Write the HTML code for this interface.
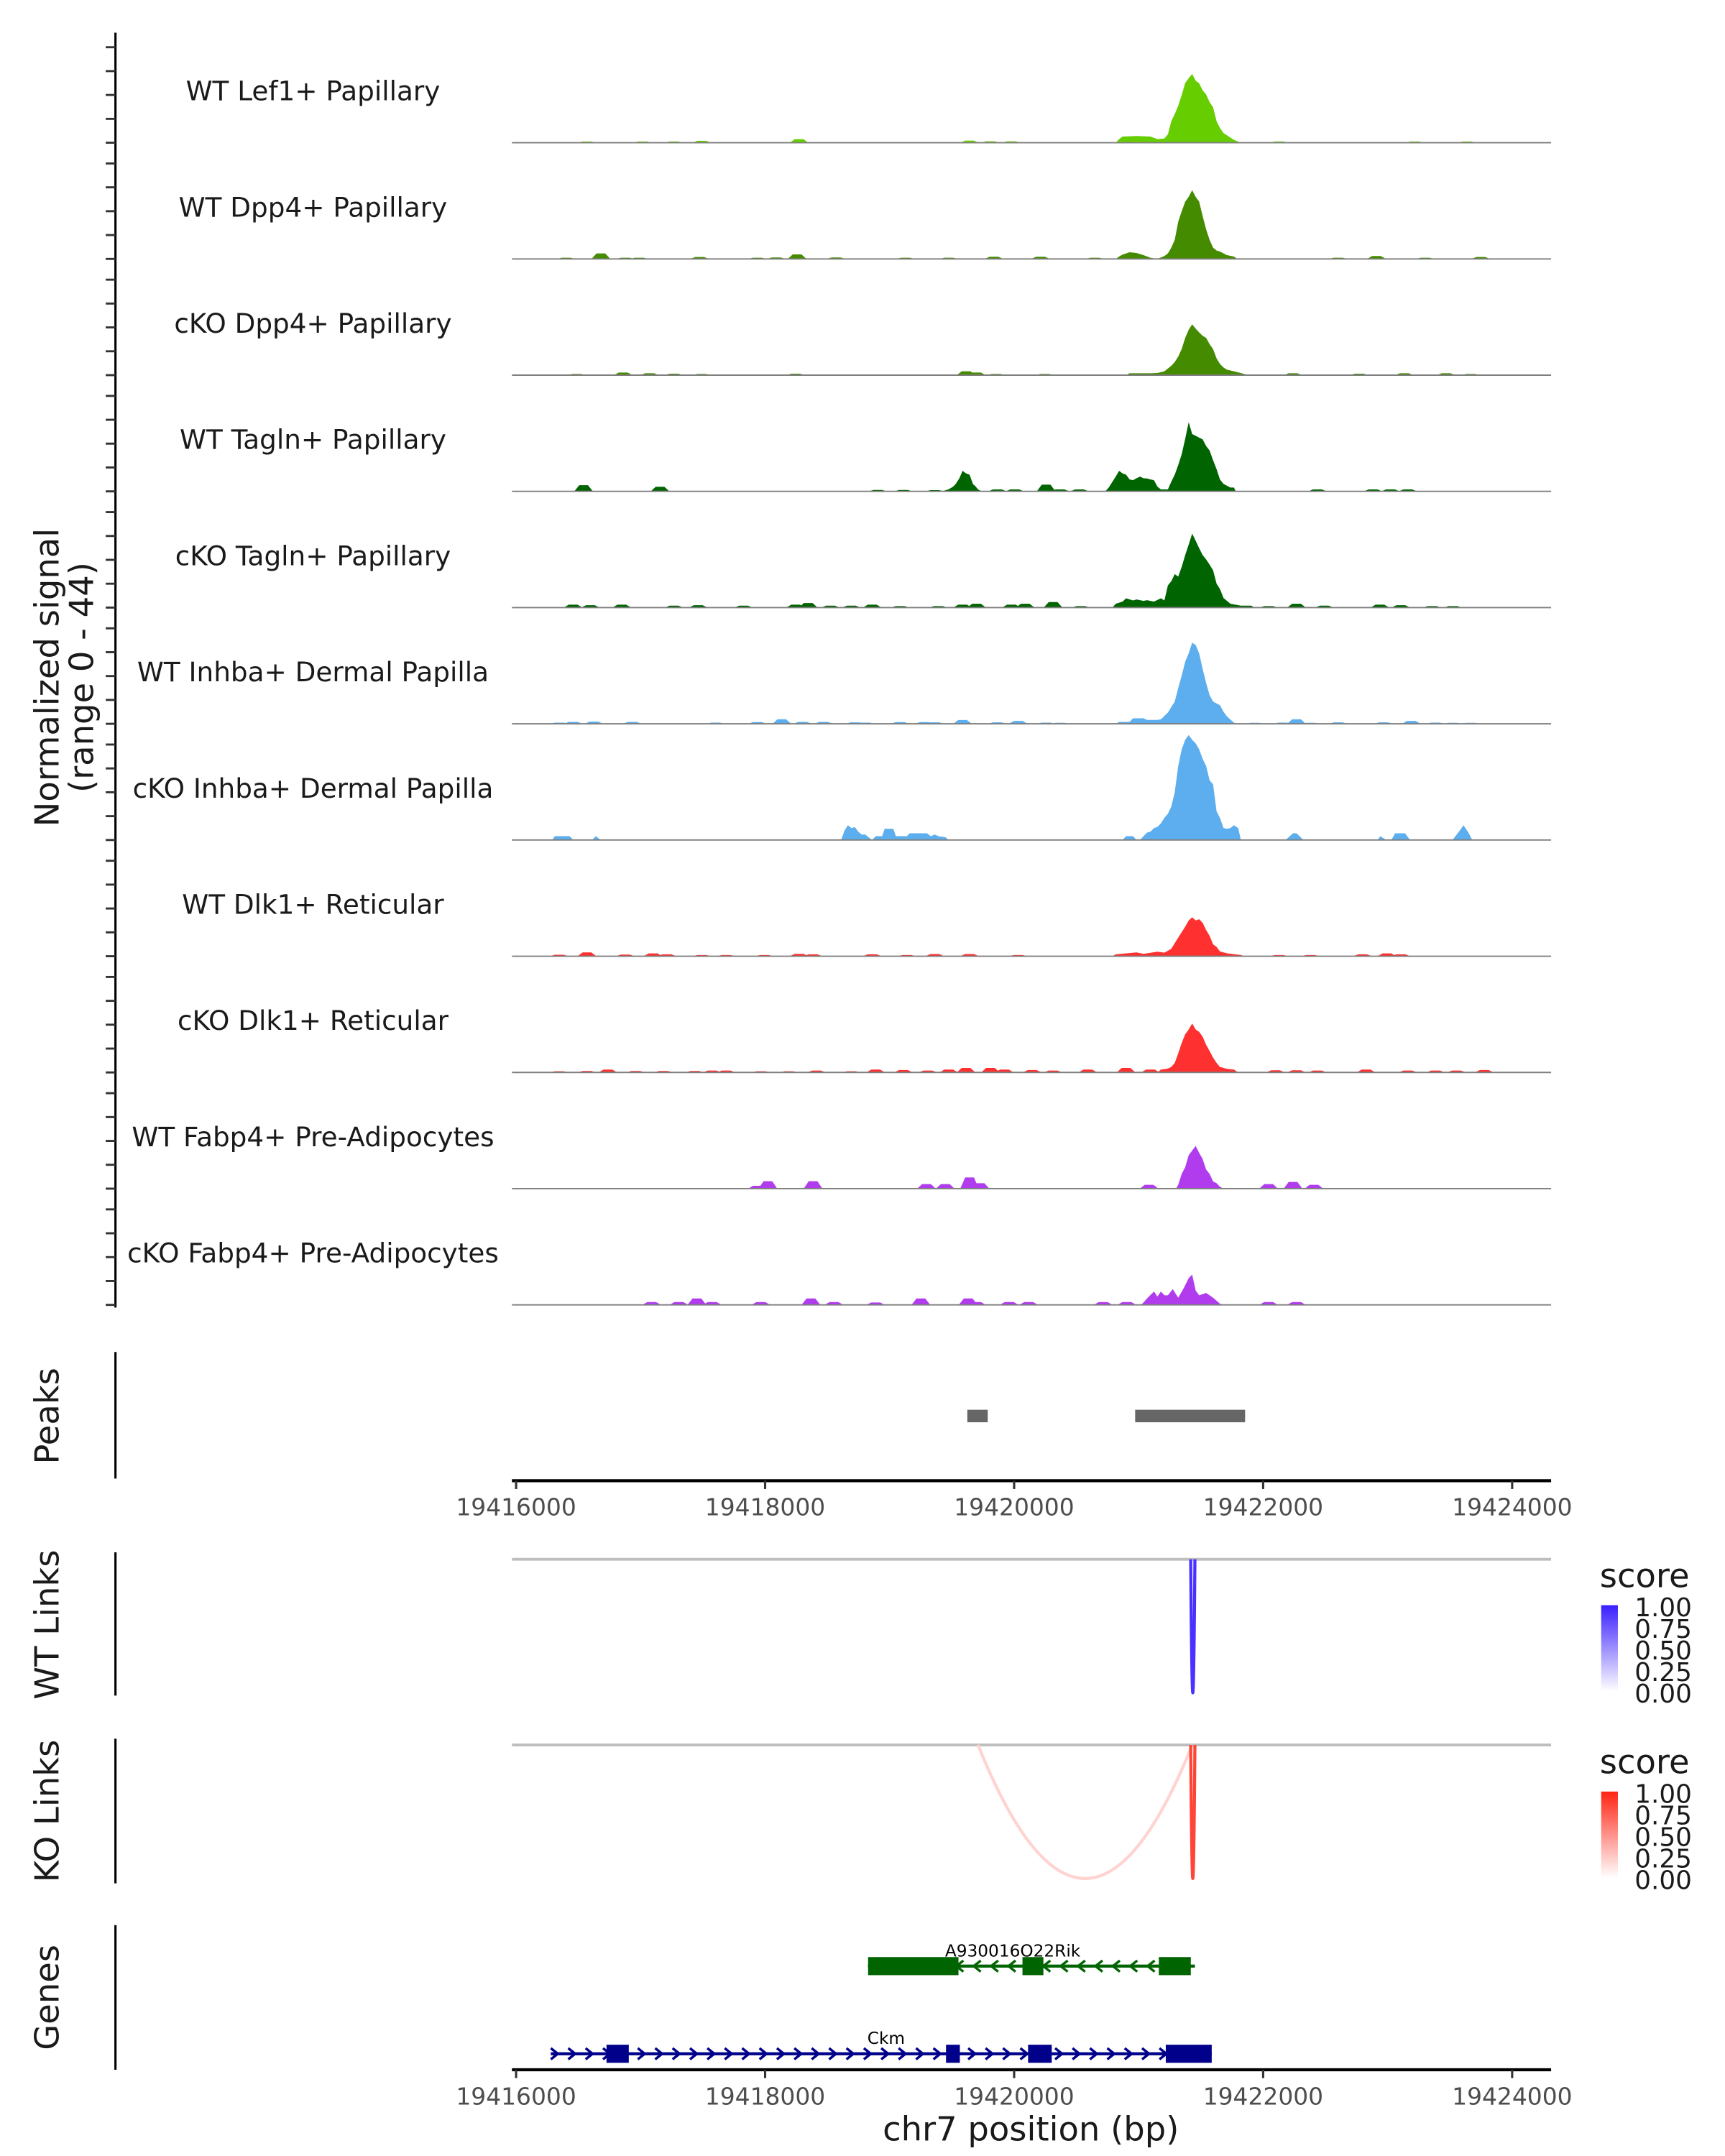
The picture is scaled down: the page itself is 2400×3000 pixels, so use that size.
<!DOCTYPE html>
<html>
<head>
<meta charset="utf-8">
<style>
  html,body{margin:0;padding:0;background:#fff;}
  svg{display:block;}
  text{font-family:"DejaVu Sans","Liberation Sans",sans-serif;}
</style>
</head>
<body>
<svg id="fig" xmlns="http://www.w3.org/2000/svg" width="2400" height="3000" viewBox="0 0 1240 1550">
  <defs>
    <linearGradient id="gradBlue" x1="0" y1="0" x2="0" y2="1">
      <stop offset="0" stop-color="#3a1fff"/>
      <stop offset="1" stop-color="#ffffff"/>
    </linearGradient>
    <linearGradient id="gradRed" x1="0" y1="0" x2="0" y2="1">
      <stop offset="0" stop-color="#ff2414"/>
      <stop offset="1" stop-color="#ffffff"/>
    </linearGradient>
  </defs>
  <g id="tracks"></g>
  <text transform="translate(42,487) rotate(-90)" text-anchor="middle" font-size="24" fill="#1a1a1a">Normalized signal</text>
  <text transform="translate(67,487) rotate(-90)" text-anchor="middle" font-size="24" fill="#1a1a1a">(range 0 - 44)</text>

  <g id="peaks"></g>
  <g id="links"></g>
  <g id="genes"></g>
  <g id="axes"></g>

  <g>
    <text x="1150" y="1141" font-size="24" fill="#1a1a1a">score</text>
    <rect x="1151" y="1154" width="12" height="62" fill="url(#gradBlue)"/>
    <text x="1175" y="1162" font-size="18.5" fill="#1a1a1a">1.00</text>
    <text x="1175" y="1177.5" font-size="18.5" fill="#1a1a1a">0.75</text>
    <text x="1175" y="1193" font-size="18.5" fill="#1a1a1a">0.50</text>
    <text x="1175" y="1208.5" font-size="18.5" fill="#1a1a1a">0.25</text>
    <text x="1175" y="1224" font-size="18.5" fill="#1a1a1a">0.00</text>
  </g>
  <g>
    <text x="1150" y="1275" font-size="24" fill="#1a1a1a">score</text>
    <rect x="1151" y="1288" width="12" height="62" fill="url(#gradRed)"/>
    <text x="1175" y="1296" font-size="18.5" fill="#1a1a1a">1.00</text>
    <text x="1175" y="1311.5" font-size="18.5" fill="#1a1a1a">0.75</text>
    <text x="1175" y="1327" font-size="18.5" fill="#1a1a1a">0.50</text>
    <text x="1175" y="1342.5" font-size="18.5" fill="#1a1a1a">0.25</text>
    <text x="1175" y="1358" font-size="18.5" fill="#1a1a1a">0.00</text>
  </g>

  <text transform="translate(42,1018) rotate(-90)" text-anchor="middle" font-size="24" fill="#1a1a1a">Peaks</text>
  <text transform="translate(42,1168) rotate(-90)" text-anchor="middle" font-size="24" fill="#1a1a1a">WT Links</text>
  <text transform="translate(42,1302) rotate(-90)" text-anchor="middle" font-size="24" fill="#1a1a1a">KO Links</text>
  <text transform="translate(42,1436) rotate(-90)" text-anchor="middle" font-size="24" fill="#1a1a1a">Genes</text>
  <text x="741" y="1539" text-anchor="middle" font-size="24" fill="#1a1a1a">chr7 position (bp)</text>
</svg>

<script>
// ---------------- data ----------------
const trackNames = ["WT Lef1+ Papillary","WT Dpp4+ Papillary","cKO Dpp4+ Papillary","WT Tagln+ Papillary","cKO Tagln+ Papillary","WT Inhba+ Dermal Papilla","cKO Inhba+ Dermal Papilla","WT Dlk1+ Reticular","cKO Dlk1+ Reticular","WT Fabp4+ Pre-Adipocytes","cKO Fabp4+ Pre-Adipocytes"];
const signalRange = [0, 44];
const xTicks = [19416000, 19418000, 19420000, 19422000, 19424000];
const yTickValues = [0, 10, 20, 30, 40];

const lef1WtBumps = [[16569,0.5],[17016,0.5],[17268,0.5],[17491,0.8],[18273,1.5],[19642,0.9],[19810,0.6],[19978,0.6],[22128,0.5],[23218,0.5],[23637,0.5]];
const lef1WtMain = [[20816,0],[20843,1.5],[20871,2.6],[20983,2.8],[21095,2.6],[21151,1.5],[21207,1.8],[21235,3.5],[21262,9],[21290,12],[21318,15.5],[21346,20],[21374,25],[21402,27],[21430,28.8],[21458,26],[21486,24.9],[21514,22],[21542,20.2],[21570,17],[21598,14.8],[21626,9],[21653,6.2],[21682,4],[21709,3.1],[21765,1.2],[21821,0]];

const dpp4WtBumps = [[16402,0.5],[16681,2.3],[16877,0.5],[16988,0.5],[17474,0.8],[17938,0.5],[18089,0.6],[18257,1.9],[18570,0.6],[19128,0.5],[19475,0.5],[19838,0.9],[20212,0.9],[20648,0.5],[22603,0.5],[22910,1.2],[23301,0.5],[23748,0.8]];
const dpp4WtMain = [[20816,0],[20843,1],[20871,1.8],[20927,2.8],[20983,2.5],[21039,1.6],[21095,0.5],[21151,0],[21207,1.2],[21235,2.3],[21262,4.7],[21290,8],[21318,15.6],[21346,20],[21374,24],[21402,26],[21430,28.8],[21458,26],[21486,24],[21514,18],[21542,12.4],[21570,8],[21598,4.7],[21626,3.5],[21653,3.1],[21709,1.6],[21765,1],[21793,0]];

const dpp4KoBumps = [[16486,0.5],[16860,1.1],[17072,0.8],[17268,0.6],[17491,0.5],[18245,0.6],[19614,1.6],[19698,1.1],[19855,0.5],[20033,0.3],[20246,0.5],[22240,0.8],[22771,0.6],[23134,0.8],[23469,0.8],[23665,0.5],[23861,0.3]];
const dpp4KoMain = [[20899,0],[20927,0.8],[21095,0.8],[21151,0.9],[21207,1.6],[21262,3.9],[21290,5.5],[21318,7.8],[21346,11],[21374,15.6],[21402,19],[21430,21.3],[21458,19.5],[21486,17.9],[21514,16.5],[21542,15.6],[21570,13],[21598,10.9],[21626,7],[21653,4.7],[21682,3.2],[21709,2.3],[21765,1.6],[21849,0.5],[21877,0]];

const taglnWtBumps = [[16542,2.6],[17156,1.9],[18905,0.6],[19111,0.6],[19363,0.5],[19866,0.8],[20005,0.8],[20257,2.8],[20369,0.8],[20525,0.8],[22436,0.8],[22883,0.8],[23023,0.8],[23162,0.8]];
const taglnWtMain = [[19420,0],[19475,0.9],[19510,2],[19531,3.1],[19560,5.5],[19586,8.6],[19614,7.5],[19642,7],[19670,3],[19687,2.3],[19710,0.8],[19740,0],[20732,0],[20760,1.6],[20816,6.2],[20843,8.6],[20871,7.5],[20899,7],[20927,5],[20955,4.7],[20983,5.5],[21011,6.2],[21039,5.5],[21067,5.4],[21095,5],[21123,4.7],[21151,2],[21179,0.8],[21235,0.8],[21262,4],[21290,7],[21318,11],[21346,15.6],[21374,22],[21402,29],[21430,24],[21458,23.3],[21486,22.5],[21514,21.8],[21542,19],[21570,17.1],[21598,13],[21626,9.3],[21653,5],[21682,3.1],[21737,1.6],[21765,1.6],[21780,0]];

const taglnKoBumps = [[16458,1.2],[16597,1],[16849,1.2],[17268,0.8],[17463,1],[17827,0.8],[18245,1.2],[18346,1.9],[18525,0.8],[18693,0.8],[18860,1.2],[19084,0.6],[19391,0.6],[19586,1.2],[19698,1.6],[19978,1.2],[20089,1.6],[20313,2.3],[20536,0.6],[22044,0.6],[22268,1.6],[22491,0.8],[22938,1.2],[23106,1],[23357,0.6],[23525,0.6]];
const taglnKoMain = [[20790,0],[20816,1.6],[20871,2.5],[20899,3.9],[20955,3],[20983,3.4],[21039,2.8],[21067,3.1],[21123,2.5],[21179,3.9],[21207,3],[21235,9.3],[21262,11],[21290,14],[21318,13],[21346,17.1],[21374,22],[21402,26.4],[21430,31],[21458,28],[21486,24.9],[21514,22],[21542,20.2],[21570,18],[21598,15.6],[21626,10],[21653,7.8],[21682,4],[21737,1.6],[21821,0.8],[21905,0.8],[21930,0]];

const inhbaWtBumps = [[16346,0.5],[16458,0.8],[16625,0.9],[16933,0.8],[17603,0.5],[17938,0.7],[18134,1.9],[18301,0.8],[18469,0.8],[18721,0.6],[18804,0.5],[19084,0.7],[19279,0.7],[19363,0.6],[19586,1.6],[19866,0.6],[20033,1.2],[20257,0.5],[20369,0.4],[21933,0.4],[22156,0.5],[22268,1.9],[22380,0.4],[22603,0.6],[22966,0.6],[23190,1.2],[23385,0.5],[23525,0.4],[23665,0.4]];
const inhbaWtMain = [[20816,0],[20843,0.8],[20927,0.8],[20955,2.3],[21039,2.3],[21067,1.6],[21151,1.6],[21179,1.9],[21235,4.7],[21262,7],[21290,9.3],[21318,15],[21346,20.2],[21374,26],[21402,29.5],[21430,34],[21458,33],[21486,29.5],[21514,23],[21542,17.1],[21570,12],[21598,9.3],[21626,8.5],[21653,7.8],[21682,5],[21709,3.1],[21765,0.5],[21793,0]];

const inhbaKoBumps = [];
const inhbaKoMain = [[16290,0],[16310,1.6],[16430,1.6],[16460,0],[16610,0],[16640,1.6],[16680,0],[18610,0],[18637,3.9],[18665,6.2],[18693,5],[18721,5.4],[18748,3.5],[18776,2.3],[18804,2.3],[18860,0],[18888,1.6],[18940,1.6],[18960,4.7],[19030,4.7],[19050,1.6],[19140,1.6],[19160,2.8],[19300,2.8],[19330,1.6],[19363,2.3],[19391,1.6],[19447,1.2],[19475,0],[20871,0],[20899,1.6],[20955,1.6],[20983,0],[21011,0],[21039,1.6],[21067,3.1],[21095,3.5],[21123,5],[21151,5.5],[21179,7],[21207,9.3],[21235,11],[21262,14],[21290,20],[21318,31],[21346,38],[21374,42],[21402,44],[21430,42],[21458,40.5],[21486,38],[21514,34],[21542,31],[21570,25],[21598,23.3],[21626,12],[21653,9.3],[21682,5],[21709,4.7],[21737,5],[21765,6.2],[21800,5],[21821,0],[22180,0],[22240,2.8],[22268,2.8],[22324,0],[22920,0],[22940,1.6],[22990,0],[23030,0],[23060,2.8],[23140,2.8],[23180,0],[23520,0],[23580,4],[23609,6.2],[23650,3],[23680,0]];

const dlk1WtBumps = [[16346,0.6],[16569,1.6],[16877,0.7],[17100,1.2],[17212,0.8],[17491,0.5],[17687,0.5],[17994,0.5],[18273,1],[18385,0.8],[18860,0.8],[19139,0.5],[19363,0.9],[19642,0.9],[20033,0.5],[22128,0.5],[22380,0.5],[22799,0.8],[22994,1.2],[23106,0.8]];
const dlk1WtMain = [[20790,0],[20816,0.8],[20983,1.6],[21039,1],[21151,1.9],[21207,1.5],[21262,3.1],[21318,7.8],[21374,12.4],[21402,15],[21430,16.3],[21458,15],[21486,15.5],[21514,14],[21542,11],[21570,8.5],[21598,5],[21626,3.9],[21653,2],[21709,1.2],[21821,0.5],[21849,0]];

const dlk1KoBumps = [[16346,0.5],[16569,0.6],[16737,1.2],[16961,0.6],[17184,0.6],[17435,0.6],[17575,0.8],[17687,0.8],[17966,0.5],[18190,0.5],[18413,0.8],[18693,0.5],[18888,1.2],[19111,1],[19307,0.8],[19475,1.2],[19614,1.9],[19810,1.9],[19922,1.2],[20145,1],[20313,0.8],[20592,1.2],[20899,1.9],[21095,1.2],[22100,0.9],[22268,0.9],[22436,0.8],[22827,1.2],[23162,0.8],[23385,0.8],[23553,0.8],[23776,1]];
const dlk1KoMain = [[21150,0],[21179,1.2],[21235,1.6],[21262,2.3],[21290,4],[21318,8],[21346,12.4],[21374,16],[21402,18],[21430,20.5],[21458,18],[21486,17],[21514,15],[21542,11.6],[21570,9],[21598,6.2],[21626,4],[21653,2.3],[21709,1.5],[21765,1.2],[21800,0]];

const fabp4WtBumps = [[17938,1.2],[18022,3.1],[18385,3.1],[19296,1.9],[19447,1.9],[19642,4.7],[19726,2.3],[21084,1.6],[22044,1.9],[22240,2.8],[22408,1.6]];
const fabp4WtMain = [[21300,0],[21318,1.6],[21346,6.2],[21374,9],[21402,14],[21430,16],[21458,17.9],[21486,15],[21514,12.4],[21542,8],[21570,6.2],[21598,3],[21626,2.3],[21653,0.8],[21682,0]];

const fabp4KoBumps = [[17089,1.2],[17307,1.2],[17452,2.7],[17575,1.2],[17966,1.2],[18368,2.7],[18553,1.2],[18888,1],[19251,2.7],[19631,2.7],[19698,1.2],[19961,1.2],[20117,1.2],[20715,1.2],[20905,1.2],[22044,1.2],[22268,1.2]];
const fabp4KoMain = [[21020,0],[21039,1],[21067,2.7],[21123,5.6],[21151,3.5],[21179,5.6],[21207,4],[21235,4],[21274,6.6],[21318,3],[21363,7.1],[21402,11.2],[21430,12.7],[21458,6],[21486,4],[21542,5],[21570,4],[21598,3],[21653,0.5],[21682,0]];

const peakStarts = [19419624, 19420972];
const peakEnds = [19419788, 19421855];

const wtLinkStarts = [19421418];
const wtLinkEnds = [19421452];
const wtLinkScores = [0.92];
const koLinkStarts = [19419710, 19421418];
const koLinkEnds = [19421430, 19421452];
const koLinkScores = [0.2, 0.85];

const geneNames = ["A930016O22Rik", "Ckm"];
const geneStarts = [19418827, 19416279];
const geneEnds = [19421452, 19421587];
const geneStrands = ["-", "+"];
const rikExonStarts = [19418827, 19420067, 19421162];
const rikExonEnds = [19419553, 19420235, 19421419];
const ckmExonStarts = [19416726, 19419453, 19420112, 19421218];
const ckmExonEnds = [19416905, 19419564, 19420302, 19421587];

// ---------------- layout/styles ----------------
const signalBumps = [lef1WtBumps,dpp4WtBumps,dpp4KoBumps,taglnWtBumps,taglnKoBumps,inhbaWtBumps,inhbaKoBumps,dlk1WtBumps,dlk1KoBumps,fabp4WtBumps,fabp4KoBumps];
const signalMain = [lef1WtMain,dpp4WtMain,dpp4KoMain,taglnWtMain,taglnKoMain,inhbaWtMain,inhbaKoMain,dlk1WtMain,dlk1KoMain,fabp4WtMain,fabp4KoMain];
const trackColors = ["#66cd00","#458b00","#458b00","#006400","#006400","#5caeee","#5caeee","#ff3030","#ff3030","#b03cee","#b03cee"];
const NS = "http://www.w3.org/2000/svg";
const X0 = 368, X1 = 1115;
function xScale(bp){ return 371 + (bp - 19416000) * (179/2000); }
const trackTop = 102.6, trackStep = 83.55, unitPx = 1.716;
function yScale(i, v){ return trackTop + i*trackStep - v*unitPx; }
function mk(tag, attrs, parent){
  const e = document.createElementNS(NS, tag);
  for (const k in attrs) e.setAttribute(k, attrs[k]);
  parent.appendChild(e); return e;
}

const tracksG = document.getElementById('tracks');
let ax = mk('line', {x1:83, x2:83, y1:23.5, y2:940, stroke:'#000', 'stroke-width':1.6}, tracksG);



trackNames.forEach((name, i) => {
  const g = mk('g', {}, tracksG);
  
  
  const base = yScale(i, 0);
  yTickValues.forEach(tv => {
    const t = mk('line', {x1:76, x2:83, y1:yScale(i,tv), y2:yScale(i,tv), stroke:'#333', 'stroke-width':1.5}, g);
    
    
  });
  const col = trackColors[i];
  const pts = signalMain[i];
  if (pts.length){
    let d = '';
    pts.forEach((p, j) => {
      const x = xScale(19400000 + p[0]).toFixed(2), y = yScale(i, p[1]).toFixed(2);
      d += (j===0 ? 'M'+x+' '+base+' L' : ' L') + x + ' ' + y;
    });
    d += ' L' + xScale(19400000 + pts[pts.length-1][0]).toFixed(2) + ' ' + base + ' Z';
    const a = mk('path', {d:d, fill:col}, g);
    
    
  }
  signalBumps[i].forEach(b => {
    const c = 19400000 + b[0];
    const y = yScale(i, b[1]);
    const d = 'M'+xScale(c-75)+' '+base+' L'+xScale(c-35)+' '+y+' L'+xScale(c+35)+' '+y+' L'+xScale(c+75)+' '+base+' Z';
    const p = mk('path', {d:d, fill:col}, g);
    
    
  });
  const bl = mk('line', {x1:X0, x2:X1, y1:base, y2:base, stroke:'#7f7f7f', 'stroke-width':1}, g);
  
  
  const lab = mk('text', {x:225, y:base - 30.5, 'text-anchor':'middle', 'font-size':19.3, fill:'#1a1a1a'}, g);
  lab.textContent = name;
  
  
});

const peaksG = document.getElementById('peaks');
let pa = mk('line', {x1:83, x2:83, y1:972, y2:1063, stroke:'#000', 'stroke-width':1.6}, peaksG);


peakStarts.forEach((s, k) => {
  const r = mk('rect', {x:xScale(s), y:1013.5, width:xScale(peakEnds[k]) - xScale(s), height:9, fill:'#666666'}, peaksG);
  
  
});

const axesG = document.getElementById('axes');
function drawXAxis(y, name){
  const l = mk('line', {x1:X0, x2:X1, y1:y, y2:y, stroke:'#000', 'stroke-width':2.2}, axesG);
  
  
  xTicks.forEach(t => {
    const x = xScale(t);
    const tk = mk('line', {x1:x, x2:x, y1:y, y2:y+6, stroke:'#333', 'stroke-width':1.6}, axesG);
    
    
    const tl = mk('text', {x:x, y:y+25, 'text-anchor':'middle', 'font-size':17, fill:'#4d4d4d'}, axesG);
    tl.textContent = String(t);
    
    
  });
}
drawXAxis(1064.5, 'peaks-x-axis');
drawXAxis(1488, 'genes-x-axis');

const linksG = document.getElementById('links');
function linkPanel(y0, yAxTop, yAxBot, starts, ends, scores, rgb, nm){
  const a = mk('line', {x1:83, x2:83, y1:yAxTop, y2:yAxBot, stroke:'#000', 'stroke-width':1.6}, linksG);
  
  
  const gl = mk('line', {x1:X0, x2:X1, y1:y0, y2:y0, stroke:'#bebebe', 'stroke-width':2}, linksG);
  
  
  const depth = 96;
  starts.forEach((s, k) => {
    const x1 = xScale(s), x2 = xScale(ends[k]);
    const c = y0 + depth*2;
    const sc = scores[k];
    const col = 'rgb(' + rgb.map(v => Math.round(255 - (255 - v)*sc)).join(',') + ')';
    const p = mk('path', {d:'M'+x1+' '+y0+' Q'+((x1+x2)/2)+' '+c+' '+x2+' '+y0, fill:'none', stroke:col, 'stroke-width':2.2}, linksG);
    
    
  });
}
linkPanel(1121, 1116, 1219, wtLinkStarts, wtLinkEnds, wtLinkScores, [58,31,255], 'wt-links');
linkPanel(1254.5, 1250, 1354, koLinkStarts, koLinkEnds, koLinkScores, [255,36,20], 'ko-links');

const genesG = document.getElementById('genes');
let ga = mk('line', {x1:83, x2:83, y1:1384, y2:1488, stroke:'#000', 'stroke-width':1.6}, genesG);


const geneRowY = [1413.5, 1476.5];
const geneColors = ["#006400", "#00008b"];
const exonS = [rikExonStarts, ckmExonStarts], exonE = [rikExonEnds, ckmExonEnds];
geneNames.forEach((gn, k) => {
  const g = mk('g', {}, genesG);
  
  
  const y = geneRowY[k], col = geneColors[k];
  const xs = xScale(geneStarts[k]), xe = xScale(geneEnds[k]);
  const ln = mk('line', {x1:xs, x2:xe, y1:y, y2:y, stroke:col, 'stroke-width':2.2}, g);
  
  
  const step = 12.5;
  for (let x = xs + 3; x < xe - 2; x += step){
    const dir = geneStrands[k] === '+' ? 1 : -1;
    const ar = mk('path', {d:'M'+(x - 3*dir)+' '+(y-4)+' L'+(x+2*dir)+' '+y+' L'+(x - 3*dir)+' '+(y+4), fill:'none', stroke:col, 'stroke-width':1.8}, g);
    
    
  }
  exonS[k].forEach((s, j) => {
    const r = mk('rect', {x:xScale(s), y:y-6.5, width:xScale(exonE[k][j]) - xScale(s), height:13, fill:col}, g);
    
    
  });
  const lb = mk('text', {x:k===0 ? 728 : 637, y:y - 7, 'text-anchor':'middle', 'font-size':12, fill:'#000'}, g);
  lb.textContent = gn;
  
  
});
</script>
</body>
</html>
